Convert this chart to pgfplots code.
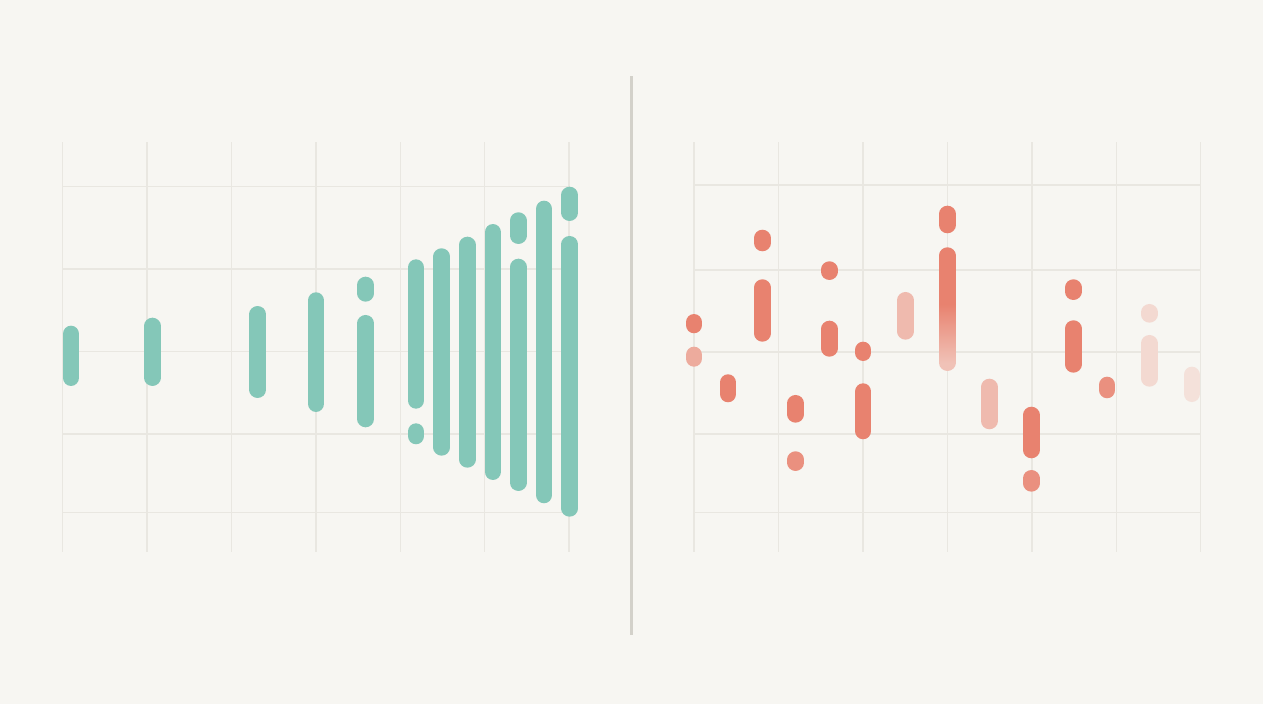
\documentclass[border=0pt]{standalone}
\usepackage{pgfplots}
\pgfplotsset{compat=1.18}
\definecolor{bg}{HTML}{F7F6F2}
\definecolor{gridc}{HTML}{E9E7E1}
\definecolor{divc}{HTML}{D3D1CA}
\definecolor{tealc}{HTML}{84C7B8}
\definecolor{coral}{HTML}{E8826F}
\colorlet{c90}{coral!88!bg}
\colorlet{c65}{coral!65!bg}
\colorlet{c50}{coral!52!bg}
\colorlet{c40}{coral!45!bg}
\colorlet{c25}{coral!25!bg}
\colorlet{c18}{coral!18!bg}
\pgfplotsset{
  panel/.style={scale only axis, anchor=south west, height=205pt,
    xmin=0, xmax=6, ymin=0, ymax=100,
    axis line style={draw=none}, xtick={0,...,6}, xticklabels={}, yticklabels={},
    major tick length=0pt, grid=major,
    major grid style={draw=gridc, line width=0.7pt}, clip=false},
  bar/.style={line width=8.25pt, line cap=round, unbounded coords=jump, mark=none}
}
\begin{document}
\begin{tikzpicture}
\fill[bg] (0,0) rectangle (631.5pt,352pt);
% left panel
\begin{axis}[panel, at={(31.35pt,76.15pt)}, width=253.15pt, ytick={9.6,28.7,48.8,68.9,89.0}]
\addplot[bar, draw=tealc] coordinates {
(0.098,42.43) (0.098,53.11) (0.098,nan)
(1.062,42.43) (1.062,55.06) (1.062,nan)
(2.311,39.50) (2.311,57.91) (2.311,nan)
(3.002,36.09) (3.002,61.26) (3.002,nan)
(3.591,62.99) (3.591,65.06) (3.591,nan)
(3.591,32.35) (3.591,55.72) (3.591,nan)
(4.187,36.89) (4.187,69.30) (4.187,nan)
(4.187,28.21) (4.187,29.30) (4.187,nan)
(4.492,25.43) (4.492,71.99) (4.492,nan)
(4.795,22.50) (4.795,74.82) (4.795,nan)
(5.097,19.50) (5.097,77.91) (5.097,nan)
(5.399,77.06) (5.399,80.77) (5.399,nan)
(5.399,16.82) (5.399,69.45) (5.399,nan)
(5.704,13.82) (5.704,83.60) (5.704,nan)
(6.008,82.67) (6.008,87.01) (6.008,nan)
(6.008,10.55) (6.008,74.99)
};
\end{axis}
% right panel
\begin{axis}[panel, at={(347pt,76.15pt)}, width=253.35pt, ytick={9.6,28.7,48.7,68.7,89.4},
  colormap={fade}{color(0)=(c40) color(0.55)=(coral) color(1)=(coral)}]
\addplot[bar, draw=coral] coordinates {
(0,55.28) (0,55.96) (0,nan)
(0.403,38.45) (0.403,41.26) (0.403,nan)
(0.809,75.28) (0.809,76.52) (0.809,nan)
(0.809,53.23) (0.809,64.43) (0.809,nan)
(1.204,33.48) (1.204,36.21) (1.204,nan)
(1.602,68.28) (1.602,68.82) (1.602,nan)
(1.602,49.57) (1.602,54.33) (1.602,nan)
(2.004,48.52) (2.004,49.21) (2.004,nan)
(2.004,29.43) (2.004,39.06) (2.004,nan)
(3.0,79.67) (3.0,82.38) (3.0,nan)
(3.994,24.79) (3.994,33.35) (3.994,nan)
(4.491,63.40) (4.491,64.43) (4.491,nan)
(4.491,45.67) (4.491,54.43)
};
\addplot[bar, draw=c90] coordinates {
(1.204,21.70) (1.204,22.48) (1.204,nan)
(3.994,16.65) (3.994,17.91) (3.994,nan)
(4.893,39.43) (4.893,40.67)
};
\addplot[bar, draw=c65] coordinates {(0,47.13) (0,47.99)};
\addplot[bar, draw=c50] coordinates {
(2.504,53.72) (2.504,61.33) (2.504,nan)
(3.497,31.87) (3.497,40.18)
};
\addplot[bar, draw=c25] coordinates {
(5.392,57.87) (5.392,58.40) (5.392,nan)
(5.392,42.26) (5.392,50.84)
};
\addplot[bar, draw=c18] coordinates {(5.894,38.52) (5.894,43.11)};
% gradient bar at x=3: round ends, then shaded body
\addplot[bar, draw=coral] coordinates {(3.0,71.0) (3.0,72.23)};
\addplot[bar, draw=c40] coordinates {(3.0,46.09) (3.0,47.3)};
\addplot[patch, patch type=rectangle, shader=interp, point meta=explicit,
  point meta min=0, point meta max=1] table[meta=c] {
x y c
2.9023 46.09 0
3.0977 46.09 0
3.0977 72.23 1
2.9023 72.23 1
};
\end{axis}
\draw[divc, line width=1.5pt] (315.65pt,34.5pt) -- (315.65pt,314.15pt);
\pgfresetboundingbox
\useasboundingbox (0,0) rectangle (631.5pt,352pt);
\end{tikzpicture}
\end{document}
